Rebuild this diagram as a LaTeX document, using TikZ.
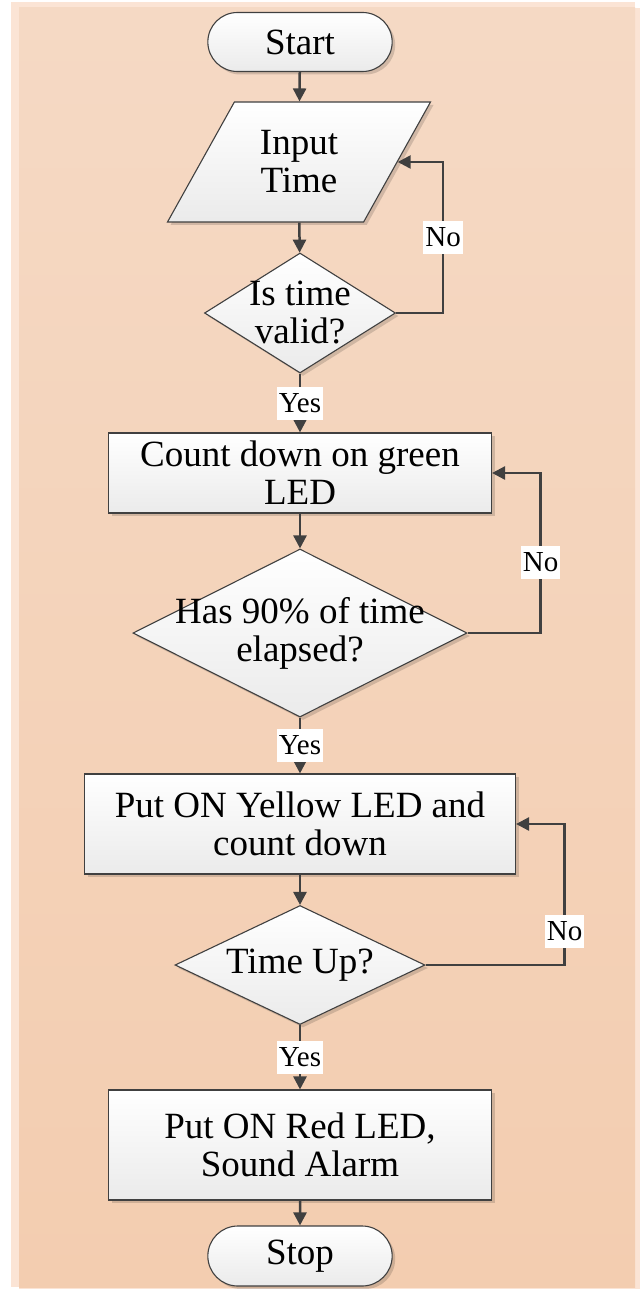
\documentclass[tikz,border=0pt]{standalone}
\usepackage{fontspec}
\setmainfont{Liberation Serif}
\usetikzlibrary{shapes.geometric,shapes.misc,arrows.meta,shadows}
\definecolor{pagelight}{HTML}{FBE4D5}
\definecolor{pagetop}{HTML}{F5D9C4}
\definecolor{pagebot}{HTML}{F3CDB0}
\definecolor{edge}{HTML}{404040}
\newcommand{\bigtext}{\fontsize{37}{38}\selectfont}
\newcommand{\smalltext}{\fontsize{29}{30}\selectfont}
\tikzset{
  box/.style={draw=edge, line width=1.1pt, top color=white, bottom color=black!8,
    drop shadow={shadow xshift=3pt, shadow yshift=-3pt, fill=black, opacity=0.15},
    font=\bigtext, align=center},
  terminal/.style={box, rounded rectangle, minimum width=191pt, minimum height=59pt},
  process/.style={box, rectangle},
  inout/.style={box, trapezium, trapezium left angle=46, trapezium right angle=134,
    trapezium stretches body, minimum width=263pt, minimum height=120pt},
  decision/.style={box, diamond, inner sep=0pt},
  dtext/.style={font=\bigtext, align=center},
  flow/.style={draw=edge, line width=2.5pt, -{Triangle[length=13pt,width=13pt]}},
  answer/.style={fill=white, font=\smalltext, inner sep=2pt, minimum height=33pt},
}
\begin{document}
\begin{tikzpicture}[x=1pt, y=-1pt]
\useasboundingbox (0,0) rectangle (640,1289);
\fill[pagelight] (11,2) rectangle (635,1287);
\fill[pagelight] (19,8) rectangle (640,1289);
\shade[top color=pagetop, bottom color=pagebot] (19,8) rectangle (635,1287);

\node[terminal] (start) at (300,42) {Start};
\node[inout] (input) at (299,162) {Input\\Time};
\node[decision, minimum width=191pt, minimum height=120pt,
  label={[dtext]center:{Is time\\valid?}}] (valid) at (300,313) {};
\node[process, minimum width=383pt, minimum height=80pt] (green) at (300,473) {Count down on green\\LED};
\node[decision, minimum width=334pt, minimum height=168pt,
  label={[dtext]center:{Has 90\% of time\\elapsed?}}] (ninety) at (300,633) {};
\node[process, minimum width=431pt, minimum height=100pt] (yellow) at (300,824) {Put ON Yellow LED and\\count down};
\node[decision, minimum width=250pt, minimum height=119pt,
  label={[dtext]center:{Time Up?}}] (timeup) at (300,965) {};
\node[process, minimum width=383pt, minimum height=110pt] (red) at (300,1145) {Put ON Red LED,\\Sound Alarm};
\node[terminal, minimum height=60pt] (stop) at (300,1256) {Stop};

\draw[flow] (start) -- (input);
\draw[flow] (input) -- (valid);
\draw[flow] (valid) -- node[answer] {Yes} (green);
\draw[flow] (green) -- (ninety);
\draw[flow] (ninety) -- node[answer] {Yes} (yellow);
\draw[flow] (yellow) -- (timeup);
\draw[flow] (timeup) -- node[answer] {Yes} (red);
\draw[flow] (red) -- (stop);

\draw[flow] (valid.east) -- ++(47,0) |- node[answer, pos=0.25] {No} (input.east);
\draw[flow] (ninety.east) -- ++(73,0) |- node[answer, pos=0.22] {No} (green.east);
\draw[flow] (timeup.east) -- ++(139,0) |- node[answer, pos=0.12] {No} (yellow.east);

\end{tikzpicture}
\end{document}
